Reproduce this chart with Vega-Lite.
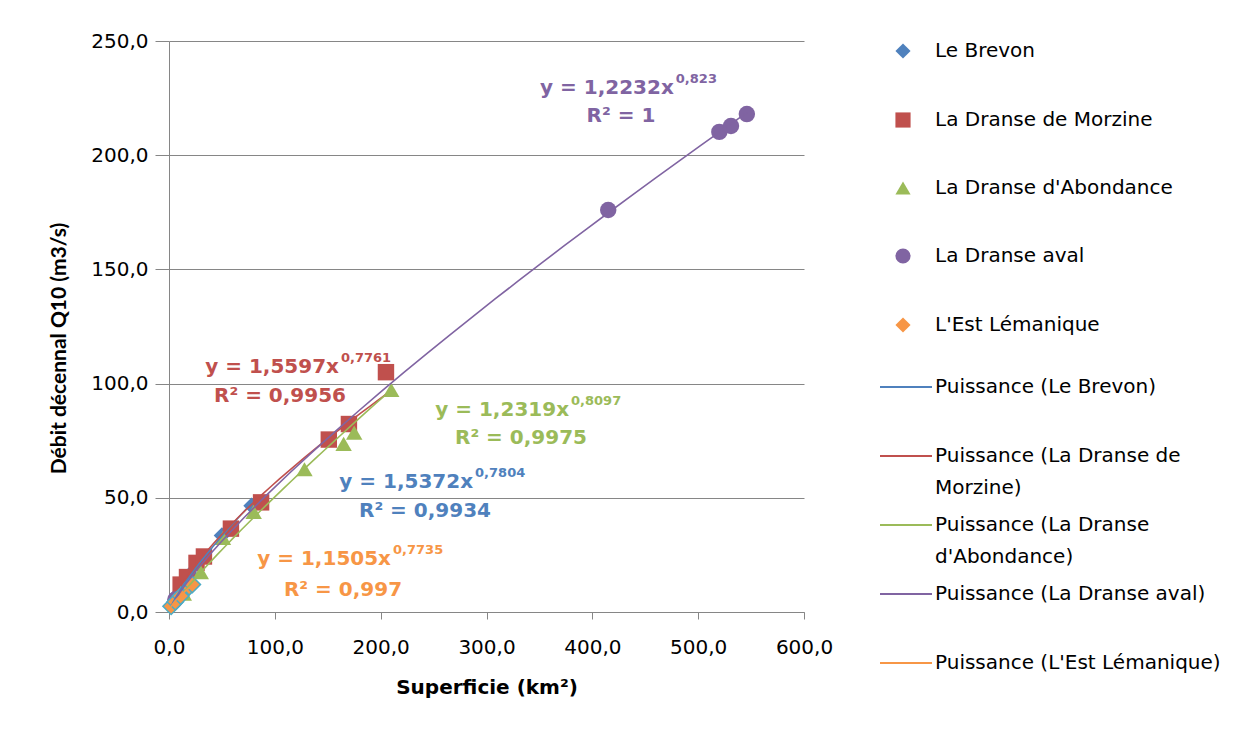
{
  "$schema": "https://vega.github.io/schema/vega-lite/v6.json",
  "width": 635,
  "height": 571,
  "padding": {"left": 48, "top": 31, "right": 5, "bottom": 5},
  "background": "white",
  "config": {
    "view": {"stroke": null},
    "axis": {
      "labelFont": "DejaVu Sans",
      "labelFontSize": 20,
      "labelColor": "#000000",
      "titleFont": "DejaVu Sans",
      "titleFontSize": 20,
      "titleFontWeight": "bold",
      "titleColor": "#000000",
      "domainColor": "#868686",
      "tickColor": "#868686",
      "gridColor": "#868686",
      "labelFlush": false
    },
    "legend": {
      "labelFont": "DejaVu Sans",
      "labelFontSize": 20,
      "labelColor": "#000000",
      "labelLimit": 400
    }
  },
  "datasets": {
    "pts": [
      {"series": "Le Brevon", "trend": "Puissance (Le Brevon)", "x": 2.5, "y": 3},
      {"series": "Le Brevon", "trend": "Puissance (Le Brevon)", "x": 8, "y": 7.5},
      {"series": "Le Brevon", "trend": "Puissance (Le Brevon)", "x": 20, "y": 16.5},
      {"series": "Le Brevon", "trend": "Puissance (Le Brevon)", "x": 50, "y": 33.5},
      {"series": "Le Brevon", "trend": "Puissance (Le Brevon)", "x": 78, "y": 46.5},
      {"series": "La Dranse de Morzine", "trend": "Puissance (La Dranse de Morzine)", "x": 11, "y": 12},
      {"series": "La Dranse de Morzine", "trend": "Puissance (La Dranse de Morzine)", "x": 17, "y": 15.3},
      {"series": "La Dranse de Morzine", "trend": "Puissance (La Dranse de Morzine)", "x": 26, "y": 21.5},
      {"series": "La Dranse de Morzine", "trend": "Puissance (La Dranse de Morzine)", "x": 33, "y": 24.3},
      {"series": "La Dranse de Morzine", "trend": "Puissance (La Dranse de Morzine)", "x": 58.5, "y": 36.5},
      {"series": "La Dranse de Morzine", "trend": "Puissance (La Dranse de Morzine)", "x": 87, "y": 48},
      {"series": "La Dranse de Morzine", "trend": "Puissance (La Dranse de Morzine)", "x": 151, "y": 75.5},
      {"series": "La Dranse de Morzine", "trend": "Puissance (La Dranse de Morzine)", "x": 170, "y": 82.3},
      {"series": "La Dranse de Morzine", "trend": "Puissance (La Dranse de Morzine)", "x": 205, "y": 105},
      {"series": "La Dranse d'Abondance", "trend": "Puissance (La Dranse d'Abondance)", "x": 14, "y": 8},
      {"series": "La Dranse d'Abondance", "trend": "Puissance (La Dranse d'Abondance)", "x": 30, "y": 17.5},
      {"series": "La Dranse d'Abondance", "trend": "Puissance (La Dranse d'Abondance)", "x": 51, "y": 32.4},
      {"series": "La Dranse d'Abondance", "trend": "Puissance (La Dranse d'Abondance)", "x": 80, "y": 43.8},
      {"series": "La Dranse d'Abondance", "trend": "Puissance (La Dranse d'Abondance)", "x": 128, "y": 62.5},
      {"series": "La Dranse d'Abondance", "trend": "Puissance (La Dranse d'Abondance)", "x": 165, "y": 73.6},
      {"series": "La Dranse d'Abondance", "trend": "Puissance (La Dranse d'Abondance)", "x": 175, "y": 78.5},
      {"series": "La Dranse d'Abondance", "trend": "Puissance (La Dranse d'Abondance)", "x": 210, "y": 97.2},
      {"series": "La Dranse aval", "trend": "Puissance (La Dranse aval)", "x": 6, "y": 5.5},
      {"series": "La Dranse aval", "trend": "Puissance (La Dranse aval)", "x": 415, "y": 176},
      {"series": "La Dranse aval", "trend": "Puissance (La Dranse aval)", "x": 520, "y": 210.2},
      {"series": "La Dranse aval", "trend": "Puissance (La Dranse aval)", "x": 531, "y": 212.8},
      {"series": "La Dranse aval", "trend": "Puissance (La Dranse aval)", "x": 546, "y": 218},
      {"series": "L'Est Lémanique", "trend": "Puissance (L'Est Lémanique)", "x": 2, "y": 2.5},
      {"series": "L'Est Lémanique", "trend": "Puissance (L'Est Lémanique)", "x": 6, "y": 4.5},
      {"series": "L'Est Lémanique", "trend": "Puissance (L'Est Lémanique)", "x": 11, "y": 7},
      {"series": "L'Est Lémanique", "trend": "Puissance (L'Est Lémanique)", "x": 19, "y": 11},
      {"series": "L'Est Lémanique", "trend": "Puissance (L'Est Lémanique)", "x": 22, "y": 12}
    ],
    "lbl": [
      {"series": "La Dranse aval", "ex": 477, "ey": 229.4, "eq": "y = 1,2232x", "pw": "0,823", "rx": 427, "ry": 217.2, "r2": "R² = 1"},
      {"series": "La Dranse de Morzine", "ex": 160.6, "ey": 107.3, "eq": "y = 1,5597x", "pw": "0,7761", "rx": 104.9, "ry": 94.6, "r2": "R² = 0,9956"},
      {"series": "La Dranse d'Abondance", "ex": 378, "ey": 88.4, "eq": "y = 1,2319x", "pw": "0,8097", "rx": 332.6, "ry": 76.2, "r2": "R² = 0,9975"},
      {"series": "Le Brevon", "ex": 287.3, "ey": 56.9, "eq": "y = 1,5372x", "pw": "0,7804", "rx": 241.9, "ry": 44.2, "r2": "R² = 0,9934"},
      {"series": "L'Est Lémanique", "ex": 209.8, "ey": 23.2, "eq": "y = 1,1505x", "pw": "0,7735", "rx": 164.4, "ry": 9.6, "r2": "R² = 0,997"}
    ]
  },
  "layer": [
    {
      "data": {"name": "pts"},
      "mark": {"type": "point", "filled": true, "size": 270, "opacity": 1, "strokeWidth": 1.5},
      "encoding": {
        "x": {
          "field": "x", "type": "quantitative", "title": "Superficie (km²)",
          "scale": {"domain": [0, 600], "nice": false},
          "axis": {
            "values": [0, 100, 200, 300, 400, 500, 600],
            "labelExpr": "replace(format(datum.value, '.1f'), '.', ',')",
            "grid": false, "tickSize": 7, "labelPadding": 18, "titlePadding": 20
          }
        },
        "y": {
          "field": "y", "type": "quantitative", "title": "Débit décennal Q10 (m3/s)",
          "scale": {"domain": [0, 250], "nice": false},
          "axis": {
            "values": [0, 50, 100, 150, 200, 250],
            "labelExpr": "replace(format(datum.value, '.1f'), '.', ',')",
            "grid": true, "tickSize": 14, "labelPadding": 7, "titlePadding": 21,
            "titleFont": "Lato", "titleFontSize": 21, "titleY": 307
          }
        },
        "color": {
          "field": "series", "type": "nominal", "sort": null,
          "scale": {
            "domain": ["Le Brevon", "La Dranse de Morzine", "La Dranse d'Abondance", "La Dranse aval", "L'Est Lémanique"],
            "range": ["#4F81BD", "#C0504D", "#9BBB59", "#8064A2", "#F79646"]
          },
          "legend": {
            "title": null, "orient": "right", "offset": 75,
            "symbolSize": 230, "symbolOffset": 14, "labelOffset": 22, "rowPadding": 47,
            "encode": {
              "symbols": {
                "update": {
                  "stroke": {"signal": "datum.label === \"L'Est Lémanique\" ? '#4BACC6' : 'transparent'"},
                  "strokeWidth": {"value": 2}
                }
              }
            }
          }
        },
        "shape": {
          "field": "series", "type": "nominal", "sort": null,
          "scale": {
            "domain": ["Le Brevon", "La Dranse de Morzine", "La Dranse d'Abondance", "La Dranse aval", "L'Est Lémanique"],
            "range": ["diamond", "square", "triangle-up", "circle", "diamond"]
          }
        },
        "stroke": {
          "condition": {"test": "datum.series === \"L'Est Lémanique\"", "value": "#4BACC6"},
          "value": "transparent"
        }
      }
    },
    {
      "data": {"name": "pts"},
      "transform": [{"regression": "y", "on": "x", "groupby": ["trend"], "method": "pow"}],
      "mark": {"type": "line", "strokeWidth": 1.6},
      "encoding": {
        "x": {"field": "x", "type": "quantitative", "title": "Superficie (km²)"},
        "y": {"field": "y", "type": "quantitative", "title": "Débit décennal Q10 (m3/s)"},
        "stroke": {
          "field": "trend", "type": "nominal", "sort": null,
          "scale": {
            "domain": ["Puissance (Le Brevon)", "Puissance (La Dranse de Morzine)", "Puissance (La Dranse d'Abondance)", "Puissance (La Dranse aval)", "Puissance (L'Est Lémanique)"],
            "range": ["#4F81BD", "#C0504D", "#9BBB59", "#8064A2", "#F79646"]
          },
          "legend": {
            "title": null, "orient": "right", "offset": 75, "padding": 16,
            "symbolType": "stroke", "symbolSize": 2704, "symbolStrokeWidth": 2,
            "symbolOffset": -16, "labelOffset": 2, "rowPadding": -2.5,
            "labelExpr": "datum.label === 'Puissance (La Dranse de Morzine)' ? ['Puissance (La Dranse de', 'Morzine)'] : datum.label === \"Puissance (La Dranse d'Abondance)\" ? ['Puissance (La Dranse', \"d'Abondance)\"] : [datum.label, ' ']",
            "encode": {
              "labels": {
                "update": {
                  "lineHeight": {"value": 32}
                }
              }
            }
          }
        }
      }
    },
    {
      "data": {"name": "lbl"},
      "mark": {"type": "text", "align": "right", "baseline": "middle", "font": "DejaVu Sans", "fontWeight": "bold", "fontSize": 20},
      "encoding": {
        "x": {"field": "ex", "type": "quantitative", "title": "Superficie (km²)"},
        "y": {"field": "ey", "type": "quantitative", "title": "Débit décennal Q10 (m3/s)"},
        "text": {"field": "eq"},
        "color": {
          "condition": [
            {"test": "datum.series === 'Le Brevon'", "value": "#4F81BD"},
            {"test": "datum.series === 'La Dranse de Morzine'", "value": "#C0504D"},
            {"test": "datum.series === \"La Dranse d'Abondance\"", "value": "#9BBB59"},
            {"test": "datum.series === 'La Dranse aval'", "value": "#8064A2"}
          ],
          "value": "#F79646"
        }
      }
    },
    {
      "data": {"name": "lbl"},
      "mark": {"type": "text", "align": "left", "baseline": "middle", "dx": 2, "dy": -9, "font": "DejaVu Sans", "fontWeight": "bold", "fontSize": 13},
      "encoding": {
        "x": {"field": "ex", "type": "quantitative", "title": "Superficie (km²)"},
        "y": {"field": "ey", "type": "quantitative", "title": "Débit décennal Q10 (m3/s)"},
        "text": {"field": "pw"},
        "color": {
          "condition": [
            {"test": "datum.series === 'Le Brevon'", "value": "#4F81BD"},
            {"test": "datum.series === 'La Dranse de Morzine'", "value": "#C0504D"},
            {"test": "datum.series === \"La Dranse d'Abondance\"", "value": "#9BBB59"},
            {"test": "datum.series === 'La Dranse aval'", "value": "#8064A2"}
          ],
          "value": "#F79646"
        }
      }
    },
    {
      "data": {"name": "lbl"},
      "mark": {"type": "text", "align": "center", "baseline": "middle", "font": "DejaVu Sans", "fontWeight": "bold", "fontSize": 20},
      "encoding": {
        "x": {"field": "rx", "type": "quantitative", "title": "Superficie (km²)"},
        "y": {"field": "ry", "type": "quantitative", "title": "Débit décennal Q10 (m3/s)"},
        "text": {"field": "r2"},
        "color": {
          "condition": [
            {"test": "datum.series === 'Le Brevon'", "value": "#4F81BD"},
            {"test": "datum.series === 'La Dranse de Morzine'", "value": "#C0504D"},
            {"test": "datum.series === \"La Dranse d'Abondance\"", "value": "#9BBB59"},
            {"test": "datum.series === 'La Dranse aval'", "value": "#8064A2"}
          ],
          "value": "#F79646"
        }
      }
    }
  ]
}
